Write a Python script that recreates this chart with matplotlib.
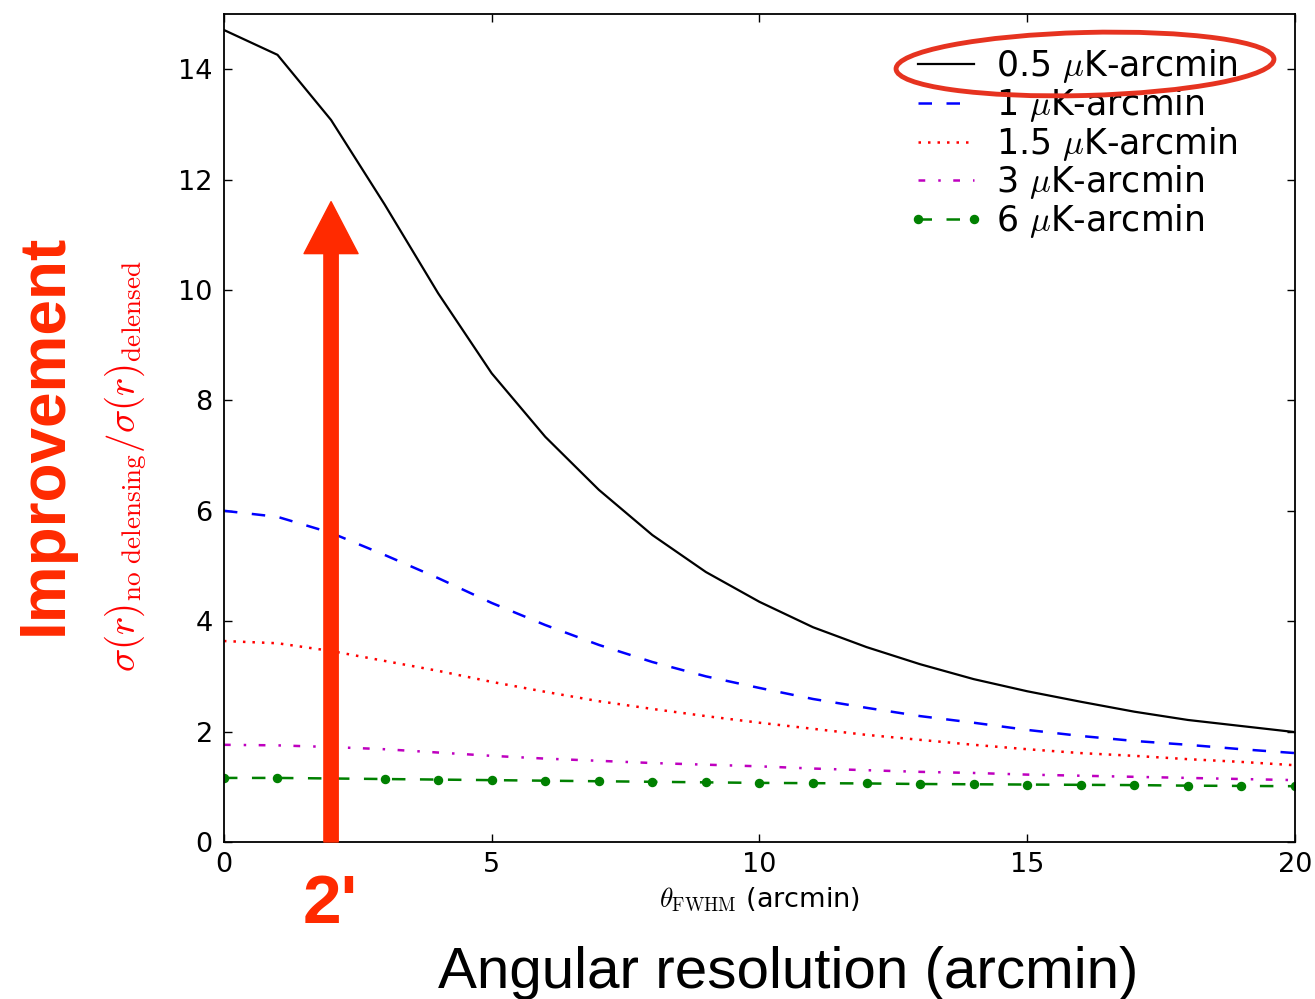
import matplotlib
matplotlib.use('Agg')
import matplotlib.pyplot as plt
from matplotlib.patches import Ellipse, FancyArrowPatch

# --- dados ---
theta_fwhm = [0, 1, 2, 3, 4, 5, 6, 7, 8, 9, 10, 11, 12, 13, 14, 15, 16, 17, 18, 19, 20]

melhoria_05 = [14.71, 14.26, 13.08, 11.55, 9.94, 8.49, 7.34, 6.38, 5.56, 4.89, 4.35,
               3.89, 3.53, 3.22, 2.95, 2.73, 2.54, 2.36, 2.21, 2.10, 1.99]
melhoria_1 = [6.00, 5.89, 5.60, 5.20, 4.78, 4.33, 3.93, 3.57, 3.26, 3.00, 2.79,
              2.59, 2.43, 2.28, 2.16, 2.03, 1.92, 1.83, 1.76, 1.68, 1.61]
melhoria_15 = [3.64, 3.60, 3.46, 3.28, 3.10, 2.90, 2.72, 2.55, 2.41, 2.28, 2.16,
               2.05, 1.94, 1.85, 1.76, 1.68, 1.61, 1.56, 1.50, 1.45, 1.39]
melhoria_3 = [1.76, 1.75, 1.72, 1.68, 1.62, 1.56, 1.51, 1.47, 1.43, 1.40, 1.37,
              1.33, 1.30, 1.27, 1.25, 1.22, 1.20, 1.18, 1.16, 1.14, 1.12]
melhoria_6 = [1.16, 1.16, 1.15, 1.14, 1.13, 1.12, 1.11, 1.10, 1.09, 1.08, 1.07,
              1.065, 1.06, 1.05, 1.045, 1.04, 1.035, 1.03, 1.02, 1.015, 1.01]

rotulos = [r'0.5 $\mu$K-arcmin', r'1 $\mu$K-arcmin', r'1.5 $\mu$K-arcmin',
           r'3 $\mu$K-arcmin', r'6 $\mu$K-arcmin']

resolucao_destacada = 2.0
topo_seta = 11.6

vermelho = '#ff2a00'

plt.rcParams['mathtext.fontset'] = 'cm'
plt.rcParams['font.family'] = 'DejaVu Sans'

fig = plt.figure(figsize=(13.15, 9.99), dpi=100)
ax = fig.add_axes([0.1703, 0.1572, 0.8145, 0.8288])

# curvas
ax.plot(theta_fwhm, melhoria_05, color='k', lw=1.6, label=rotulos[0])
ax.plot(theta_fwhm, melhoria_1, color='b', lw=1.8, dashes=(5.4, 5.8), label=rotulos[1])
ax.plot(theta_fwhm, melhoria_15, color='r', lw=1.8, dashes=(1, 2.8), label=rotulos[2])
ax.plot(theta_fwhm, melhoria_3, color='m', lw=1.8, dashes=(2.7, 5.2, 1, 5), label=rotulos[3])
ax.plot(theta_fwhm, melhoria_6, color='g', lw=1.8, dashes=(5.4, 5.8), marker='o',
        markersize=5.8, label=rotulos[4])

ax.set_xlim(0, 20)
ax.set_ylim(0, 15)
ax.set_xticks([0, 5, 10, 15, 20])
ax.set_yticks([0, 2, 4, 6, 8, 10, 12, 14])
ax.tick_params(direction='in', top=True, right=True, length=6, width=1,
               labelsize=19.5)
ax.tick_params(axis='y', pad=8)
ax.tick_params(axis='x', pad=7)
for sp in ax.spines.values():
    sp.set_linewidth(1.3)

ax.set_xlabel(r'$\theta_{\rm FWHM}$ (arcmin)', fontsize=19.5, labelpad=5)
ax.set_ylabel(r'$\sigma(r)_{\rm no\ delensing}/\sigma(r)_{\rm delensed}$',
              fontsize=28, color='red')
ax.yaxis.set_label_coords(-0.07, 0.4535)

leg = ax.legend(loc='upper right', frameon=False, fontsize=25, handlelength=2.2,
                handletextpad=0.33, labelspacing=0.02, borderaxespad=0.3,
                numpoints=2, bbox_to_anchor=(0.969, 0.989))

# seta vermelha em 2'
seta = FancyArrowPatch((resolucao_destacada, 0), (resolucao_destacada, topo_seta),
                       arrowstyle='simple,head_length=3.74,head_width=3.89,tail_width=1.03',
                       mutation_scale=10, color=vermelho, shrinkA=0, shrinkB=0,
                       zorder=10, clip_on=False)
ax.add_patch(seta)

# elipse em volta da primeira entrada da legenda
elipse = Ellipse((10.85, 9.35), 3.78, 0.63, angle=1.5, fill=False,
                 edgecolor='#e63320', lw=3.5, transform=fig.dpi_scale_trans, zorder=20)
fig.add_artist(elipse)

# anotacoes
fig.text(0.0342, 0.5656, 'Improvement', rotation=90, ha='center', va='center',
         fontsize=46, fontweight='bold', color=vermelho, family='Liberation Sans')
fig.text(0.251, 0.094, "2'", ha='center', va='center', fontsize=50,
         fontweight='bold', color=vermelho, family='Liberation Sans')
fig.text(0.5995, 0.026, 'Angular resolution (arcmin)', ha='center', va='center',
         fontsize=42, color='k', family='Liberation Sans')

fig.savefig('out.png', dpi=100)
